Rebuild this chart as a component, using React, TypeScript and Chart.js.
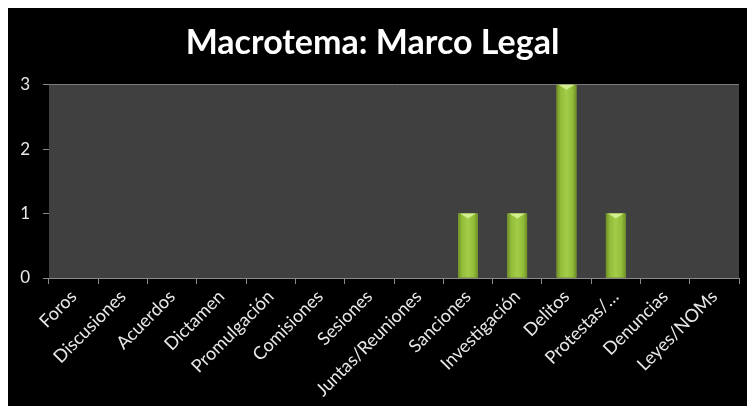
import React, { useEffect, useRef } from "react";
import { Chart, registerables } from "chart.js";

Chart.register(...registerables);

const categories = [
  "Foros",
  "Discusiones",
  "Acuerdos",
  "Dictamen",
  "Promulgación",
  "Comisiones",
  "Sesiones",
  "Juntas/Reuniones",
  "Sanciones",
  "Investigación",
  "Delitos",
  "Protestas/…",
  "Denuncias",
  "Leyes/NOMs",
];
const values = [0, 0, 0, 0, 0, 0, 0, 0, 1, 1, 3, 1, 0, 0];
const yTicks = [0, 1, 2, 3];
const titleText = "Macrotema: Marco Legal";

const FONT = "Lato, 'Open Sans', sans-serif";

const plotBg = {
  id: "plotBg",
  beforeDatasetsDraw(chart: any) {
    const { ctx, chartArea } = chart;
    ctx.save();
    ctx.fillStyle = "#404040";
    ctx.fillRect(chartArea.left, chartArea.top, chartArea.right - chartArea.left, chartArea.bottom - chartArea.top);
    ctx.restore();
  },
};

const barStyle = {
  id: "barStyle",
  afterDatasetsDraw(chart: any) {
    const { ctx } = chart;
    const meta = chart.getDatasetMeta(0);
    meta.data.forEach((bar: any) => {
      const p = bar.getProps(["x", "y", "base", "width"], true);
      const h = p.base - p.y;
      if (h <= 0) return;
      const l = p.x - p.width / 2;
      const r = p.x + p.width / 2;
      ctx.save();
      const g = ctx.createLinearGradient(l, 0, r, 0);
      g.addColorStop(0, "#6f8f25");
      g.addColorStop(0.2, "#92bd3a");
      g.addColorStop(0.5, "#a3cd48");
      g.addColorStop(0.8, "#92bd3a");
      g.addColorStop(1, "#6f8f25");
      ctx.fillStyle = g;
      ctx.fillRect(l, p.y, p.width, h);
      ctx.fillStyle = "#d2ee8e";
      ctx.beginPath();
      ctx.moveTo(l + 2, p.y);
      ctx.lineTo(r - 2, p.y);
      ctx.lineTo(p.x, p.y + 5);
      ctx.closePath();
      ctx.fill();
      ctx.restore();
    });
  },
};

export default function App() {
  const ref = useRef<HTMLCanvasElement>(null);
  useEffect(() => {
    const chart = new Chart(ref.current!, {
      type: "bar",
      data: {
        labels: categories,
        datasets: [
          {
            data: values,
            backgroundColor: "#9bc53d",
            barPercentage: 0.8,
            categoryPercentage: 0.5,
          },
        ],
      },
      plugins: [plotBg, barStyle],
      options: {
        animation: false,
        responsive: false,
        maintainAspectRatio: false,
        layout: { padding: { left: 0, right: 16, top: 0, bottom: 0 } },
        plugins: {
          legend: { display: false },
          tooltip: { enabled: false },
          title: {
            display: true,
            text: titleText,
            color: "#ffffff",
            font: { family: FONT, size: 34, weight: "bold" },
            padding: { top: 17, bottom: 21 },
          },
        },
        scales: {
          x: {
            offset: true,
            grid: {
              offset: true,
              drawOnChartArea: false,
              drawTicks: true,
              tickLength: 6,
              color: "#8a8a8a",
            },
            border: { color: "#8a8a8a", width: 1 },
            ticks: {
              color: "#e8e8e8",
              font: { family: FONT, size: 18 },
              maxRotation: 45,
              minRotation: 45,
              autoSkip: false,
              padding: 2,
            },
            afterFit(scale: any) {
              scale.height = 408 - 272;
            },
          },
          y: {
            min: 0,
            max: 3,
            afterBuildTicks(scale: any) {
              scale.ticks = yTicks.map((v) => ({ value: v }));
            },
            grid: { color: "#8a8a8a", tickLength: 6, lineWidth: 1 },
            border: { color: "#8a8a8a" },
            ticks: {
              color: "#e8e8e8",
              font: { family: FONT, size: 17 },
              padding: 13,
            },
            afterFit(scale: any) {
              scale.width = 43;
            },
          },
        },
      },
    });
    return () => chart.destroy();
  }, []);

  return (
    <div style={{ position: "relative", width: 755, height: 414, background: "#fff", margin: -8 }}>
      <div style={{ position: "absolute", left: 0, top: 0, width: 755, height: 2, background: "#000" }} />
      <div style={{ position: "absolute", left: 6, top: 6, width: 749, height: 408, background: "#000" }}>
        <canvas ref={ref} width={749} height={408} style={{ display: "block" }} />
      </div>
    </div>
  );
}
